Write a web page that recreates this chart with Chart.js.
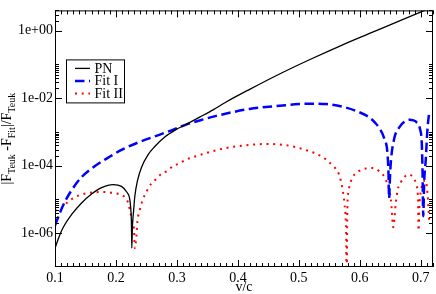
<!DOCTYPE html>
<html>
<head>
<meta charset="utf-8">
<script src="https://cdn.jsdelivr.net/npm/chart.js@4.4.0/dist/chart.umd.min.js"></script>
<style>
  html, body { margin: 0; padding: 0; background: #fff; }
</style>
</head>
<body>
<canvas id="c" width="436" height="294"></canvas>
<script>
// ---- data ----
const xTicks = [0.1, 0.2, 0.3, 0.4, 0.5, 0.6, 0.7];
const yTicks = [1e-6, 1e-4, 1e-2, 1];

const pnV = [0.100, 0.1055, 0.1136, 0.1273, 0.1436, 0.160, 0.1764, 0.1955, 0.209, 0.2173, 0.2228, 0.2244, 0.2253,
  0.226, 0.227, 0.2287, 0.2309, 0.2353, 0.2418, 0.2528, 0.2637, 0.280, 0.2964, 0.3182, 0.3373, 0.36, 0.38, 0.42,
  0.47, 0.52, 0.57, 0.62, 0.67, 0.72];
const pnErr = [3.6e-7, 6.9e-7, 1.5e-6, 3.6e-6, 7.9e-6, 1.45e-5, 2.24e-5, 2.75e-5, 2.45e-5, 1.7e-5, 9.8e-6, 5.0e-6, 2.2e-6,
  3.6e-7, 1.6e-6, 4.1e-6, 1.23e-5, 3.6e-5, 8.9e-5, 2.14e-4, 3.7e-4, 7.1e-4, 1.12e-3, 1.8e-3, 2.75e-3, 4.6e-3, 7.6e-3, 1.86e-2,
  5.4e-2, 0.145, 0.37, 0.89, 2.14, 5.1];

const fit1V = [0.100, 0.1082, 0.1164, 0.1273, 0.1436, 0.1655, 0.1873, 0.2091, 0.2364, 0.2637, 0.291, 0.3182, 0.3373,
  0.3646, 0.419, 0.4737, 0.500, 0.523, 0.545, 0.575, 0.594, 0.6155, 0.626, 0.632, 0.640, 0.6455, 0.647, 0.648, 0.6495,
  0.651, 0.6565, 0.665, 0.673, 0.681, 0.688, 0.693, 0.6985, 0.7017, 0.7028, 0.704, 0.7055, 0.708, 0.711, 0.714];
const fit1Err = [1.7e-6, 4.1e-6, 8.7e-6, 1.9e-5, 4.6e-5, 9.8e-5, 1.74e-4, 2.95e-4, 4.9e-4, 7.4e-4, 1.12e-3, 1.74e-3, 2.2e-3,
  3.0e-3, 4.8e-3, 6.1e-3, 6.7e-3, 6.9e-3, 6.7e-3, 5.4e-3, 4.2e-3, 2.7e-3, 1.8e-3, 1.3e-3, 6.5e-4, 2.1e-4, 5.8e-5, 1.1e-5, 5.0e-5,
  1.4e-4, 6.5e-4, 1.4e-3, 2.0e-3, 2.3e-3, 2.2e-3, 1.95e-3, 1.26e-3, 4.2e-4, 7.1e-5, 3.2e-6, 3.2e-5, 1.4e-4, 1.26e-3, 4.2e-3];

const fit2V = [0.100, 0.1109, 0.1218, 0.1382, 0.160, 0.1818, 0.2009, 0.2118, 0.220, 0.2244, 0.2271, 0.2298, 0.2309,
  0.2337, 0.2353, 0.2391, 0.2429, 0.250, 0.2582, 0.2664, 0.2746, 0.2844, 0.2937, 0.3029, 0.3128, 0.3237, 0.3346, 0.36,
  0.3864, 0.41, 0.43, 0.452, 0.4846, 0.517, 0.539, 0.5555, 0.566, 0.5718, 0.5746, 0.5774, 0.5784, 0.5795, 0.5815,
  0.5828, 0.5882, 0.5935, 0.5992, 0.610, 0.621, 0.632, 0.643, 0.651, 0.6548, 0.659, 0.662, 0.6674, 0.680, 0.689, 0.693,
  0.6955, 0.6963, 0.698, 0.700, 0.705, 0.708, 0.711, 0.714];
const fit2Err = [4.6e-6, 5.6e-6, 8.7e-6, 1.3e-5, 1.6e-5, 1.66e-5, 1.5e-5, 1.3e-5, 7.9e-6, 3.6e-6, 2.1e-6, 1.1e-6, 3.6e-7,
  8.7e-7, 2.3e-6, 5.0e-6, 8.7e-6, 1.7e-5, 3.0e-5, 4.1e-5, 5.8e-5, 7.1e-5, 9.8e-5, 1.15e-4, 1.45e-4, 1.74e-4, 2.0e-4, 2.75e-4,
  3.5e-4, 4.0e-4, 4.3e-4, 4.4e-4, 3.9e-4, 2.7e-4, 1.8e-4, 1.0e-4, 5.4e-5, 1.9e-5, 7.9e-6, 1.1e-6, 5.0e-8, 5.0e-6, 1.74e-5,
  2.4e-5, 4.6e-5, 6.0e-5, 7.1e-5, 8.3e-5, 8.5e-5, 6.8e-5, 3.7e-5, 9.8e-6, 1.5e-6, 7.9e-6, 1.9e-5, 3.3e-5, 5.5e-5, 4.1e-5, 2.6e-5,
  9.8e-6, 1.2e-6, 7.9e-6, 1.7e-5, 3.5e-5, 3.7e-5, 1.5e-5, 2.0e-6];

const SERIF = '"Liberation Serif", "Times New Roman", serif';

const toPoints = (xs, ys) => xs.map((v, i) => ({ x: v, y: ys[i] }));

function expLabel(v) {
  const e = Math.round(Math.log10(v));
  return '1e' + (e < 0 ? '-' : '+') + String(Math.abs(e)).padStart(2, '0');
}

// tick marks pointing inward on all four sides, plus the frame
const frame = {
  id: 'frame',
  afterDatasetsDraw(chart) {
    const { ctx, chartArea: a, scales: { x, y } } = chart;
    ctx.save();
    ctx.strokeStyle = '#000';
    ctx.lineWidth = 1;
    ctx.beginPath();
    for (let i = Math.round(x.min * 100); i <= Math.round(x.max * 100); i++) {
      const px = Math.round(x.getPixelForValue(i / 100)) + 0.5;
      const len = i % 10 === 0 ? 7 : 4;
      ctx.moveTo(px, a.bottom); ctx.lineTo(px, a.bottom - len);
      ctx.moveTo(px, a.top); ctx.lineTo(px, a.top + len);
    }
    yTicks.forEach(v => {
      for (let k = 1; k <= 10; k++) {
        const val = v * k;
        if (val > y.max) break;
        const py = Math.round(y.getPixelForValue(val)) + 0.5;
        const len = k === 1 ? 7 : 4;
        ctx.moveTo(a.left, py); ctx.lineTo(a.left + len, py);
        ctx.moveTo(a.right, py); ctx.lineTo(a.right - len, py);
      }
    });
    ctx.stroke();
    ctx.strokeRect(a.left + 0.5, a.top + 0.5, a.right - a.left - 1, a.bottom - a.top - 1);
    ctx.restore();
  }
};

// boxed legend inside the plot
const boxLegend = {
  id: 'boxLegend',
  afterDraw(chart) {
    const { ctx, chartArea: a } = chart;
    const bx = a.left + 11.5, by = a.top + 49.5;
    ctx.save();
    ctx.fillStyle = '#fff';
    ctx.fillRect(bx, by, 58, 43);
    ctx.strokeStyle = '#000';
    ctx.lineWidth = 1;
    ctx.strokeRect(bx, by, 58, 43);
    ctx.font = '14px ' + SERIF;
    ctx.textBaseline = 'middle';
    chart.data.datasets.forEach((ds, i) => {
      const ry = by + 8.5 + i * 12.5;
      ctx.strokeStyle = ds.borderColor;
      ctx.lineWidth = ds.borderWidth;
      ctx.setLineDash(ds.borderDash || []);
      ctx.beginPath();
      ctx.moveTo(bx + 8.5, ry);
      ctx.lineTo(bx + 23.5, ry);
      ctx.stroke();
      ctx.setLineDash([]);
      ctx.fillStyle = '#000';
      ctx.fillText(ds.label, bx + 28, ry + 0.5);
    });
    ctx.restore();
  }
};

// rotated y title with subscripts
const yTitle = {
  id: 'yTitle',
  afterDraw(chart) {
    const { ctx, chartArea: a } = chart;
    const parts = [['|F', 0], ['Teuk', 1], [' -F', 0], ['Fit', 1], ['|/F', 0], ['Teuk', 1]];
    const big = '14px ' + SERIF, small = '10px ' + SERIF;
    ctx.save();
    let w = 0;
    parts.forEach(([t, s]) => { ctx.font = s ? small : big; w += ctx.measureText(t).width; });
    ctx.translate(11, (a.top + a.bottom) / 2);
    ctx.rotate(-Math.PI / 2);
    ctx.fillStyle = '#000';
    ctx.textBaseline = 'alphabetic';
    let cx = -w / 2;
    parts.forEach(([t, s]) => {
      ctx.font = s ? small : big;
      ctx.fillText(t, cx, s ? 4 : 0);
      cx += ctx.measureText(t).width;
    });
    ctx.restore();
  }
};

new Chart(document.getElementById('c'), {
  type: 'line',
  data: {
    datasets: [
      { label: 'PN', data: toPoints(pnV, pnErr), borderColor: '#000000', borderWidth: 1.3 },
      { label: 'Fit I', data: toPoints(fit1V, fit1Err), borderColor: '#0000ff', borderWidth: 2.5, borderDash: [9.5, 4.5] },
      { label: 'Fit II', data: toPoints(fit2V, fit2Err), borderColor: '#ff0000', borderWidth: 2, borderDash: [2, 4.7] },
    ],
  },
  options: {
    responsive: false,
    animation: false,
    layout: { padding: { top: 1, right: 3, left: 0, bottom: 0 } },
    elements: {
      point: { radius: 0 },
      line: { cubicInterpolationMode: 'monotone', fill: false },
    },
    plugins: { legend: { display: false }, tooltip: { enabled: false } },
    scales: {
      x: {
        type: 'linear',
        min: 0.1,
        max: 0.72,
        afterBuildTicks: s => { s.ticks = xTicks.map(v => ({ value: v })); },
        afterFit: s => { s.height = 27; },
        grid: { display: false, drawTicks: false },
        border: { display: false },
        ticks: {
          padding: 3, color: '#000', autoSkip: false, maxRotation: 0,
          font: { family: SERIF, size: 14 },
          callback: v => Number(v).toFixed(1),
        },
        title: {
          display: true, text: 'v/c', color: '#000', padding: 0,
          font: { family: SERIF, size: 14, lineHeight: 1 },
        },
      },
      y: {
        type: 'logarithmic',
        min: 1e-7,
        max: 4,
        afterBuildTicks: s => { s.ticks = yTicks.map(v => ({ value: v })); },
        afterFit: s => { s.width = 55; },
        grid: { display: false, drawTicks: false },
        border: { display: false },
        ticks: {
          padding: 2, color: '#000', autoSkip: false,
          font: { family: SERIF, size: 14 },
          callback: v => expLabel(v),
        },
      },
    },
  },
  plugins: [frame, boxLegend, yTitle],
});
</script>
</body>
</html>
